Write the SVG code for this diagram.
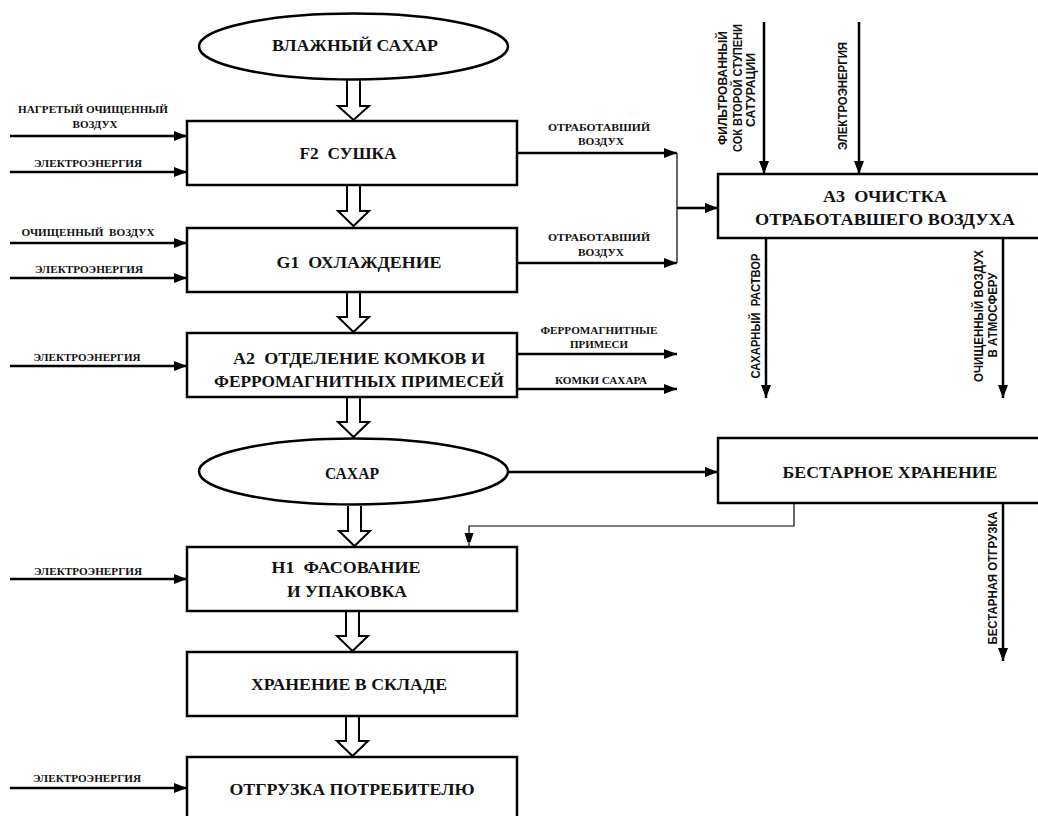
<svg xmlns="http://www.w3.org/2000/svg" width="1038" height="816" viewBox="0 0 1038 816">
<defs>
<marker id="ah" markerUnits="userSpaceOnUse" markerWidth="13" markerHeight="10" refX="13" refY="5" orient="auto"><path d="M0,0 L13,5 L0,10 z" fill="#000"/></marker>
<marker id="ahs" markerUnits="userSpaceOnUse" markerWidth="9" markerHeight="14" refX="14" refY="4.5" orient="auto"><path d="M0,0 L14,4.5 L0,9 z" fill="#000"/></marker>
</defs>
<style>
.box{fill:#fff;stroke:#000;stroke-width:2.5}
.fill{fill:#fff;stroke:none}
.edge{fill:none;stroke:#000;stroke-width:2.5}
.t{font-family:'Liberation Serif','DejaVu Serif',serif;font-weight:bold;font-size:17px;text-anchor:middle;fill:#111}
.s{font-family:'Liberation Serif','DejaVu Serif',serif;font-weight:bold;font-size:11px;text-anchor:middle;fill:#111}
.v{font-family:'Liberation Sans',Arial,sans-serif;font-weight:bold;font-size:12px;text-anchor:middle;fill:#111}
.c{fill:none;stroke:#000;stroke-width:2.5;marker-end:url(#ah)}
.thin{fill:none;stroke:#000;stroke-width:1.2}
.ha{fill:#fff;stroke:#000;stroke-width:2}
</style>

<g id="connectors">
<path class="ha" d="M347,80 V106 H338 L353.5,120 L369,106 H360 V80"/>
<path class="ha" d="M347,186 V211 H338 L353.5,226 L369,211 H360 V186"/>
<path class="ha" d="M347,293 V317 H338 L353.5,332 L369,317 H360 V293"/>
<path class="ha" d="M347,398 V422 H338 L353.5,437 L369,422 H360 V398"/>
<path class="ha" d="M348,506 V531 H339 L354.5,546 L370,531 H361 V506"/>
<path class="ha" d="M346,612 V636 H337 L352.5,651 L368,636 H359 V612"/>
<path class="ha" d="M346,717 V741 H337 L352.5,756 L368,741 H359 V717"/>

<line class="c" x1="10" y1="136" x2="187" y2="136"/>
<line class="c" x1="10" y1="172" x2="187" y2="172"/>
<line class="c" x1="10" y1="243" x2="187" y2="243"/>
<line class="c" x1="10" y1="278" x2="187" y2="278"/>
<line class="c" x1="10" y1="366" x2="187" y2="366"/>
<line class="c" x1="10" y1="579" x2="187" y2="579"/>
<line class="c" x1="10" y1="788" x2="187" y2="788"/>

<line class="c" x1="517" y1="153" x2="677" y2="153"/>
<line class="c" x1="517" y1="263" x2="677" y2="263"/>
<line class="thin" x1="677" y1="153" x2="677" y2="263"/>
<line class="c" x1="677" y1="208" x2="718" y2="208"/>
<line class="c" x1="517" y1="354" x2="677" y2="354"/>
<line class="c" x1="517" y1="389" x2="677" y2="389"/>

<line class="c" x1="764" y1="22" x2="764" y2="174"/>
<line class="c" x1="859" y1="22" x2="859" y2="174"/>
<line class="c" x1="766" y1="238" x2="766" y2="398"/>
<line class="c" x1="1003" y1="238" x2="1003" y2="398"/>

<line class="c" x1="508" y1="472" x2="718" y2="472"/>
<path class="thin" d="M794,503 V526 H469 V547" marker-end="url(#ahs)"/>
<line class="c" x1="1003" y1="503" x2="1003" y2="661"/>
</g>

<g id="n-wet-sugar">
<ellipse class="box" cx="353.5" cy="46.5" rx="154.5" ry="33"/>
<text class="t" x="355" y="51" textLength="166" lengthAdjust="spacingAndGlyphs">ВЛАЖНЫЙ САХАР</text>
</g>

<g id="n-f2">
<rect class="box" x="187" y="121" width="330" height="64"/>
<text class="t" x="348" y="159" textLength="97" lengthAdjust="spacingAndGlyphs" xml:space="preserve">F2  СУШКА</text>
</g>

<g id="n-g1">
<rect class="box" x="187" y="228" width="330" height="64"/>
<text class="t" x="359" y="268" textLength="165" lengthAdjust="spacingAndGlyphs" xml:space="preserve">G1  ОХЛАЖДЕНИЕ</text>
</g>

<g id="n-a2">
<rect class="box" x="187" y="333" width="330" height="64"/>
<text class="t" x="359" y="364" textLength="252" lengthAdjust="spacingAndGlyphs" xml:space="preserve">А2  ОТДЕЛЕНИЕ КОМКОВ И</text>
<text class="t" x="359" y="387" textLength="290" lengthAdjust="spacingAndGlyphs">ФЕРРОМАГНИТНЫХ ПРИМЕСЕЙ</text>
</g>

<g id="n-sugar">
<ellipse class="box" cx="353.5" cy="471.5" rx="154.5" ry="33"/>
<text class="t" x="352" y="479" textLength="54" lengthAdjust="spacingAndGlyphs">САХАР</text>
</g>

<g id="n-h1">
<rect class="box" x="187" y="547" width="330" height="64"/>
<text class="t" x="346" y="573" textLength="149" lengthAdjust="spacingAndGlyphs" xml:space="preserve">Н1  ФАСОВАНИЕ</text>
<text class="t" x="347" y="597" textLength="120" lengthAdjust="spacingAndGlyphs">И УПАКОВКА</text>
</g>

<g id="n-store">
<rect class="box" x="187" y="652" width="330" height="64"/>
<text class="t" x="349" y="690" textLength="196" lengthAdjust="spacingAndGlyphs">ХРАНЕНИЕ В СКЛАДЕ</text>
</g>

<g id="n-ship">
<rect class="fill" x="187" y="757" width="330" height="59"/>
<path class="edge" d="M187,817 V757 H517 V817"/>
<text class="t" x="352" y="795" textLength="245" lengthAdjust="spacingAndGlyphs">ОТГРУЗКА ПОТРЕБИТЕЛЮ</text>
</g>

<g id="n-a3">
<rect class="fill" x="718" y="174" width="320" height="64"/>
<path class="edge" d="M1039,174 H718 V238 H1039"/>
<text class="t" x="885" y="202" textLength="124" lengthAdjust="spacingAndGlyphs" xml:space="preserve">А3  ОЧИСТКА</text>
<text class="t" x="885" y="225" textLength="260" lengthAdjust="spacingAndGlyphs">ОТРАБОТАВШЕГО ВОЗДУХА</text>
</g>

<g id="n-bulk">
<rect class="fill" x="718" y="438" width="320" height="65"/>
<path class="edge" d="M1039,438 H718 V503 H1039"/>
<text class="t" x="890" y="478" textLength="215" lengthAdjust="spacingAndGlyphs">БЕСТАРНОЕ ХРАНЕНИЕ</text>
</g>

<g id="labels">
<text class="s" x="93" y="113" textLength="150" lengthAdjust="spacingAndGlyphs">НАГРЕТЫЙ ОЧИЩЕННЫЙ</text>
<text class="s" x="95" y="128" textLength="45" lengthAdjust="spacingAndGlyphs">ВОЗДУХ</text>
<text class="s" x="88" y="167" textLength="108" lengthAdjust="spacingAndGlyphs">ЭЛЕКТРОЭНЕРГИЯ</text>
<text class="s" x="88" y="236" textLength="133" lengthAdjust="spacingAndGlyphs" xml:space="preserve">ОЧИЩЕННЫЙ  ВОЗДУХ</text>
<text class="s" x="89" y="273" textLength="108" lengthAdjust="spacingAndGlyphs">ЭЛЕКТРОЭНЕРГИЯ</text>
<text class="s" x="87" y="361" textLength="107" lengthAdjust="spacingAndGlyphs">ЭЛЕКТРОЭНЕРГИЯ</text>
<text class="s" x="88" y="575" textLength="108" lengthAdjust="spacingAndGlyphs">ЭЛЕКТРОЭНЕРГИЯ</text>
<text class="s" x="87" y="782" textLength="108" lengthAdjust="spacingAndGlyphs">ЭЛЕКТРОЭНЕРГИЯ</text>

<text class="s" x="599" y="131" textLength="102" lengthAdjust="spacingAndGlyphs">ОТРАБОТАВШИЙ</text>
<text class="s" x="601" y="145" textLength="46" lengthAdjust="spacingAndGlyphs">ВОЗДУХ</text>
<text class="s" x="599" y="241" textLength="102" lengthAdjust="spacingAndGlyphs">ОТРАБОТАВШИЙ</text>
<text class="s" x="601" y="256" textLength="46" lengthAdjust="spacingAndGlyphs">ВОЗДУХ</text>
<text class="s" x="599" y="334" textLength="117" lengthAdjust="spacingAndGlyphs">ФЕРРОМАГНИТНЫЕ</text>
<text class="s" x="599" y="348" textLength="58" lengthAdjust="spacingAndGlyphs">ПРИМЕСИ</text>
<text class="s" x="601" y="384" textLength="92" lengthAdjust="spacingAndGlyphs">КОМКИ САХАРА</text>

<text class="v" x="727" y="88" transform="rotate(-90 727 88)" textLength="114" lengthAdjust="spacingAndGlyphs">ФИЛЬТРОВАННЫЙ</text>
<text class="v" x="742" y="88" transform="rotate(-90 742 88)" textLength="128" lengthAdjust="spacingAndGlyphs">СОК ВТОРОЙ СТУПЕНИ</text>
<text class="v" x="755" y="90" transform="rotate(-90 755 90)" textLength="74" lengthAdjust="spacingAndGlyphs">САТУРАЦИИ</text>
<text class="v" x="847" y="96" transform="rotate(-90 847 96)" textLength="108" lengthAdjust="spacingAndGlyphs">ЭЛЕКТРОЭНЕРГИЯ</text>
<text class="v" x="760" y="316" transform="rotate(-90 760 316)" textLength="125" lengthAdjust="spacingAndGlyphs" xml:space="preserve">САХАРНЫЙ  РАСТВОР</text>
<text class="v" x="983" y="316" transform="rotate(-90 983 316)" textLength="132" lengthAdjust="spacingAndGlyphs">ОЧИЩЕННЫЙ ВОЗДУХ</text>
<text class="v" x="997" y="315" transform="rotate(-90 997 315)" textLength="85" lengthAdjust="spacingAndGlyphs">В АТМОСФЕРУ</text>
<text class="v" x="997" y="578" transform="rotate(-90 997 578)" textLength="133" lengthAdjust="spacingAndGlyphs">БЕСТАРНАЯ ОТГРУЗКА</text>
</g>
</svg>
